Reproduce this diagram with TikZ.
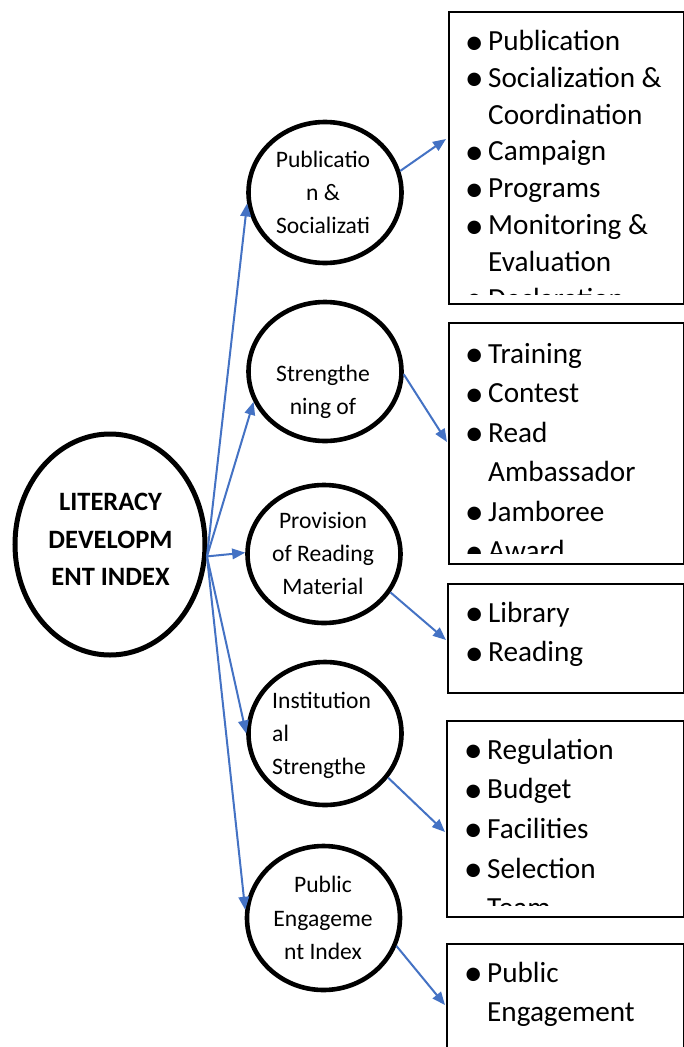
\documentclass[tikz,border=0pt]{standalone}
\usepackage{fontspec}
\usepackage{graphicx}
\setmainfont{Carlito}
\usetikzlibrary{shapes.geometric,arrows.meta,calc}
\definecolor{arrblue}{RGB}{68,114,196}
\newcommand{\bulmark}{\llap{\smash{\raisebox{-3.5pt}{\scalebox{1.3}{•}}}\kern4.5pt}}
\begin{document}
\begin{tikzpicture}[x=1pt,y=-1pt,
  arr/.style={draw=arrblue, line width=2pt, -{Triangle[length=13pt,width=10.5pt]}},
  circ/.style={ellipse, draw, line width=4.6pt, minimum width=153pt, inner sep=0pt},
  boxframe/.style={draw, line width=1.8pt, inner sep=0pt, anchor=north west, minimum width=235pt},
  ctxt/.style={inner sep=0pt, anchor=base, font=\fontsize{23.6}{28}\selectfont},
  ltxt/.style={inner sep=0pt, anchor=base west, font=\fontsize{23.6}{28}\selectfont},
  btxt/.style={inner sep=0pt, anchor=base west, font=\fontsize{29.2}{34}\selectfont},
  mtxt/.style={inner sep=0pt, anchor=base, font=\bfseries\fontsize{26.5}{30}\selectfont}]
\useasboundingbox (0,0) rectangle (684,1047);
\fill[white] (0,0) rectangle (684,1047);

% main ellipse
\node[circ, line width=5pt, minimum width=190pt, minimum height=221pt] (main) at (110,544.5) {};
\node[mtxt] (m1) at (110.5,510) {LITERACY};
\node[mtxt] (m2) at (110.5,548) {DEVELOPM};
\node[mtxt] (m3) at (110.5,585) {ENT INDEX};

% circles
\node[circ, minimum height=141pt] (c1) at (325,192.5) {};
\node[circ, minimum height=139pt] (c2) at (325,371.5) {};
\node[circ, minimum height=138pt] (c3) at (324,554) {};
\node[circ, minimum height=143pt] (c4) at (325,733.5) {};
\node[circ, minimum height=144pt] (c5) at (323.5,918) {};

\node[ctxt] (c1a) at (323,167) {Publicatio};
\node[ctxt] (c1b) at (323,200) {n \&};
\node[ctxt] (c1c) at (323,233) {Socializati};
\node[ctxt] (c2a) at (323,381) {Strengthe};
\node[ctxt] (c2b) at (323,414) {ning of};
\node[ctxt] (c3a) at (323,528) {Provision};
\node[ctxt] (c3b) at (323,561) {of Reading};
\node[ctxt] (c3c) at (323,594) {Material};
\node[ltxt] (c4a) at (272,708) {Institution};
\node[ltxt] (c4b) at (272,741) {al};
\node[ltxt] (c4c) at (272,774) {Strengthe};
\node[ctxt] (c5a) at (323,892) {Public};
\node[ctxt] (c5b) at (323,926) {Engageme};
\node[ctxt] (c5c) at (323,959) {nt Index};

% boxes
\node[boxframe, minimum height=292pt] (b1) at (448,11) {};
\node[boxframe, minimum height=241pt] (b2) at (448,322) {};
\node[boxframe, minimum height=109pt, minimum width=236pt] (b3) at (447,583) {};
\node[boxframe, minimum height=196pt, minimum width=237pt] (b4) at (446,720) {};
\node[boxframe, minimum height=130pt, minimum width=237pt] (b5) at (446,943) {};

\begin{scope}
\clip (448,11) rectangle (683,294);
\foreach \t [count=\i] in {{\bulmark Publication},{\bulmark Socialization \&},{Coordination},{\bulmark Campaign},{\bulmark Programs},{\bulmark Monitoring \&},{Evaluation},{\bulmark Declaration}}
  \node[btxt] (b1t\i) at (488,{50.5+36.8*(\i-1)}) {\t};
\end{scope}
\begin{scope}
\clip (448,322) rectangle (683,553);
\foreach \t [count=\i] in {{\bulmark Training},{\bulmark Contest},{\bulmark Read},{Ambassador},{\bulmark Jamboree},{\bulmark Award}}
  \node[btxt] (b2t\i) at (488,{363+39.5*(\i-1)}) {\t};
\end{scope}
\foreach \t [count=\i] in {{\bulmark Library},{\bulmark Reading}}
  \node[btxt] (b3t\i) at (488,{622+39.5*(\i-1)}) {\t};
\begin{scope}
\clip (446,720) rectangle (683,905);
\foreach \t [count=\i] in {{\bulmark Regulation},{\bulmark Budget},{\bulmark Facilities},{\bulmark Selection},{Team}}
  \node[btxt] (b4t\i) at (487,{759+39.7*(\i-1)}) {\t};
\end{scope}
\foreach \t [count=\i] in {{\bulmark Public},{Engagement}}
  \node[btxt] (b5t\i) at (487,{982+39*(\i-1)}) {\t};

% arrows from main
\draw[arr] (main.-7) -- (c1.188);
\draw[arr] (main.-7) -- (c2.203.6);
\draw[arr] (main.-7) -- (c3.179);
\draw[arr] (main.-7) -- (c4.180);
\draw[arr] (main.-7) -- (c5.174);

% arrows to boxes
\draw[arr] (c1.16) -- ([xshift=-2pt,yshift=-128pt]b1.north west);
\draw[arr] (c2.-2.6) -- ([xshift=-1pt,yshift=-120pt]b2.north west);
\draw[arr] (c3.-30.3) -- ([xshift=-1pt,yshift=-57pt]b3.north west);
\draw[arr] (c4.-35.7) -- ([xshift=-1pt,yshift=-112pt]b4.north west);
\draw[arr] (c5.-21.9) -- ([xshift=-1pt,yshift=-62pt]b5.north west);
\end{tikzpicture}
\end{document}
